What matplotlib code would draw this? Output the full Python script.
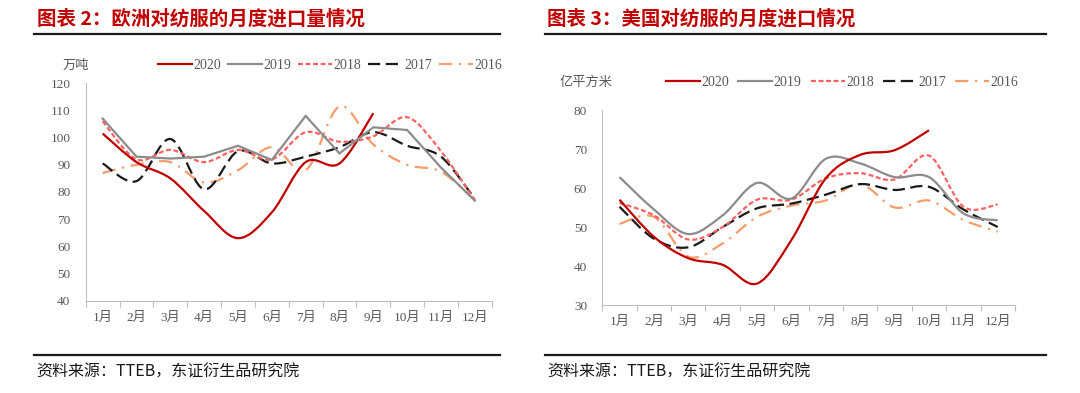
import matplotlib
matplotlib.use("Agg")
import matplotlib.pyplot as plt
import numpy as np
from matplotlib.path import Path
from matplotlib.patches import PathPatch
from matplotlib.lines import Line2D

plt.rcParams['font.family'] = ['Liberation Serif', 'Noto Sans CJK SC', 'DejaVu Sans']

months = ['1月', '2月', '3月', '4月', '5月', '6月', '7月', '8月', '9月', '10月', '11月', '12月']
years = ['2020', '2019', '2018', '2017', '2016']

# Europe (万吨)
eu_2020 = [101.5, 91, 85, 73, 63, 72.5, 91, 90.5, 109]
eu_2019 = [107, 93, 92.3, 93, 97, 91.8, 108, 94.2, 103.8, 102.8, 89, 76.8]
eu_2018 = [106, 92, 95.5, 91, 95.5, 92, 102, 98.5, 100.5, 107.5, 95, 77]
eu_2017 = [90.5, 84, 99.5, 81, 95, 90.5, 93, 96.5, 102, 97, 93, 77.5]
eu_2016 = [87, 90, 91, 83.5, 88, 96.5, 88, 111.5, 97.5, 90, 87.5, 77]

# USA (亿平方米)
us_2020 = [57, 47.5, 42, 40.3, 35.5, 46.7, 62.5, 68.5, 69.7, 74.8]
us_2019 = [62.8, 54.5, 48.2, 53, 61.3, 57.3, 67.5, 66.3, 62.8, 62.8, 53.5, 51.7]
us_2018 = [56.2, 53, 46.8, 50, 57, 57, 62.5, 63.8, 62.2, 68.3, 55.2, 55.8]
us_2017 = [55.2, 47, 44.8, 50, 54.8, 56, 58.3, 61, 59.5, 60.3, 54.5, 50]
us_2016 = [50.8, 52.6, 42.4, 45.8, 52.6, 55.5, 56.8, 61, 55, 56.8, 51.8, 48.8]

colors = {'2020': '#C00000', '2019': '#8C8C8C', '2018': '#FF6161',
          '2017': '#1A1A1A', '2016': '#F79B6A'}
styles = {'2020': '-', '2019': '-', '2018': (0, (2.2, 1.2)),
          '2017': (0, (5.5, 2.5)), '2016': (0, (6, 3, 1, 3))}
LW = 1.6
TICKC = '#595959'


def smooth_path(ys):
    xs = np.arange(len(ys), dtype=float)
    ys = np.asarray(ys, dtype=float)
    pts = np.column_stack([xs, ys])
    verts = [pts[0]]
    codes = [Path.MOVETO]
    n = len(pts)
    for i in range(n - 1):
        p0 = pts[i - 1] if i > 0 else pts[i]
        p1 = pts[i]
        p2 = pts[i + 1]
        p3 = pts[i + 2] if i + 2 < n else pts[i + 1]
        c1 = p1 + (p2 - p0) / 6.0
        c2 = p2 - (p3 - p1) / 6.0
        verts += [c1, c2, p2]
        codes += [Path.CURVE4] * 3
    return Path(verts, codes)


def draw(ax, data, smooth_flags):
    for yr in years[::-1]:
        ys = data[yr]
        if smooth_flags[yr]:
            patch = PathPatch(smooth_path(ys), fill=False, edgecolor=colors[yr],
                              linewidth=LW, linestyle=styles[yr],
                              capstyle='butt', joinstyle='round')
            ax.add_patch(patch)
        else:
            ax.plot(range(len(ys)), ys, color=colors[yr], lw=LW,
                    linestyle=styles[yr], solid_joinstyle='miter')


def style_axes(ax, ylim, yticks):
    ax.set_xlim(-0.5, 11.5)
    ax.set_ylim(*ylim)
    ax.set_yticks(yticks)
    ax.set_xticks(range(12))
    ax.set_xticklabels(months)
    ax.set_xticks(np.arange(-0.5, 12, 1), minor=True)
    ax.tick_params(axis='x', which='major', length=0, pad=8, labelsize=9.5, colors=TICKC)
    ax.tick_params(axis='x', which='minor', length=4, color='#BFBFBF', width=0.8)
    ax.tick_params(axis='y', length=0, pad=11, labelsize=9.5, colors=TICKC)
    for s in ['top', 'right']:
        ax.spines[s].set_visible(False)
    for s in ['left', 'bottom']:
        ax.spines[s].set_color('#BFBFBF')
        ax.spines[s].set_linewidth(0.8)


def legend(x, y, colsp):
    handles = [Line2D([], [], color=colors[yr], lw=LW, linestyle=styles[yr]) for yr in years]
    fig.legend(handles, years, loc='center left', bbox_to_anchor=(x, y),
               ncol=5, frameon=False, handlelength=2.45, handletextpad=0.1,
               columnspacing=colsp, borderpad=0, borderaxespad=0,
               prop={'size': 10}, labelcolor=TICKC)


fig = plt.figure(figsize=(10.8, 3.93), dpi=100)

ax1 = fig.add_axes([0.0794, 0.2349, 0.3759, 0.5532])
ax2 = fig.add_axes([0.5577, 0.2239, 0.3821, 0.4962])

eu = {'2020': eu_2020, '2019': eu_2019, '2018': eu_2018, '2017': eu_2017, '2016': eu_2016}
us = {'2020': us_2020, '2019': us_2019, '2018': us_2018, '2017': us_2017, '2016': us_2016}

draw(ax1, eu, {'2020': True, '2019': False, '2018': True, '2017': True, '2016': True})
draw(ax2, us, {'2020': True, '2019': True, '2018': True, '2017': True, '2016': True})

style_axes(ax1, (40, 120), range(40, 121, 10))
style_axes(ax2, (30, 80), range(30, 81, 10))

legend(0.1463, 0.8346, 0.5)
legend(0.6167, 0.7896, 0.65)

fig.text(0.058, 0.8346, '万吨', fontsize=9.5, color=TICKC, va='center', ha='left',
         family=['Noto Sans CJK SC'])
fig.text(0.5185, 0.7896, '亿平方米', fontsize=9.5, color=TICKC, va='center', ha='left',
         family=['Noto Sans CJK SC'])

title_kw = dict(fontsize=14, color='#C00000', fontweight='bold', va='center', ha='left',
                family=['Noto Sans CJK SC', 'DejaVu Sans'])
fig.text(0.034, 0.9517, '图表 2：欧洲对纺服的月度进口量情况', **title_kw)
fig.text(0.5065, 0.9517, '图表 3：美国对纺服的月度进口情况', **title_kw)

for x0, x1 in [(0.0315, 0.463), (0.5046, 0.9685)]:
    fig.add_artist(Line2D([x0, x1], [0.9135, 0.9135], color='#1A1A1A', lw=1.6,
                          transform=fig.transFigure))
    fig.add_artist(Line2D([x0, x1], [0.0967, 0.0967], color='#1A1A1A', lw=1.6,
                          transform=fig.transFigure))

foot_kw = dict(fontsize=11.5, color='#1A1A1A', va='center', ha='left',
               family=['Noto Sans CJK SC', 'DejaVu Sans'])
fig.text(0.034, 0.0534, '资料来源：TTEB，东证衍生品研究院', **foot_kw)
fig.text(0.5065, 0.0534, '资料来源：TTEB，东证衍生品研究院', **foot_kw)

fig.savefig('out.png', dpi=100)
